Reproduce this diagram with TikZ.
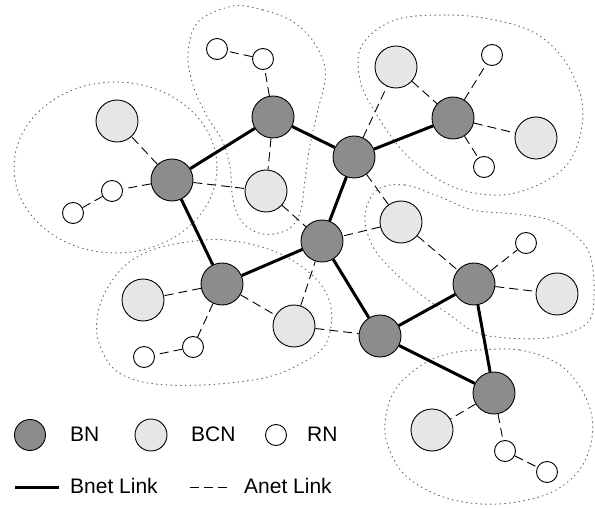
\documentclass[tikz,border=0pt]{standalone}
\usepackage{fontspec}
\setmainfont{Liberation Sans}
\begin{document}
\begin{tikzpicture}[x=1pt,y=-1pt,
  bn/.style={circle,draw=black,line width=0.9pt,fill=bngray,minimum size=42pt,inner sep=0pt},
  bcn/.style={circle,draw=black,line width=0.9pt,fill=bcngray,minimum size=42pt,inner sep=0pt},
  rn/.style={circle,draw=black,line width=0.9pt,fill=white,minimum size=21pt,inner sep=0pt},
  bnet/.style={line width=3pt},
  anet/.style={line width=0.9pt,dash pattern=on 9pt off 5pt},
  cluster/.style={draw=black!60,line width=1pt,dash pattern=on 0.8pt off 4pt,line cap=round},
  lbl/.style={anchor=west,inner sep=0pt,font=\fontsize{21}{25}\selectfont}
]
\definecolor{bngray}{HTML}{8C8C8C}
\definecolor{bcngray}{HTML}{E6E6E6}
\useasboundingbox (0,0) rectangle (595,508);

% cluster outlines
\draw[cluster] (115.5,167.5) ellipse [x radius=101.5pt, y radius=85.5pt];
\draw[cluster] plot[smooth cycle,tension=0.6] coordinates {
  (233,6) (263,10) (290,20) (310,37) (323,60) (325,80) (318,110) (310,145)
  (305,180) (300,213) (287,230) (263,234) (243,223) (233,200) (230,167)
  (222,140) (208,118) (194,88) (188,55) (198,22)};
\draw[cluster] plot[smooth cycle,tension=0.6] coordinates {
  (395,20) (448,15) (495,20) (535,33) (562,57) (578,87) (583,113) (578,143)
  (565,167) (538,185) (502,195) (462,190) (428,173) (400,148) (375,112)
  (360,80) (362,45)};
\draw[cluster] plot[smooth cycle,tension=0.6] coordinates {
  (377,190) (405,185) (440,197) (473,210) (515,214) (550,220) (575,235)
  (590,255) (594,290) (588,322) (553,337) (507,338) (475,332) (450,315)
  (420,294) (392,270) (372,245) (365,215)};
\draw[cluster] plot[smooth cycle,tension=0.6] coordinates {
  (195,241) (225,240) (262,247) (292,260) (318,281) (330,303) (331,327)
  (323,348) (300,364) (268,377) (218,384) (168,385) (135,380) (112,367)
  (98,340) (98,313) (108,287) (128,263) (158,248)};
\draw[cluster] plot[smooth cycle,tension=0.6] coordinates {
  (480,350) (520,350) (557,363) (580,387) (592,417) (590,447) (577,473)
  (550,493) (510,503) (470,503) (433,493) (403,473) (387,443) (386,415)
  (397,387) (425,363) (452,353)};

% nodes of the backbone
\node[bn] (B1) at (172,180) {};
\node[bn] (B2) at (273,117) {};
\node[bn] (B3) at (354,157) {};
\node[bn] (B4) at (453,118) {};
\node[bn] (B5) at (322,241) {};
\node[bn] (B6) at (222,284) {};
\node[bn] (B7) at (474,284) {};
\node[bn] (B8) at (380,336) {};
\node[bn] (B9) at (494,393) {};
% candidate nodes
\node[bcn] (C1) at (117,121) {};
\node[bcn] (C2) at (266,191) {};
\node[bcn] (C3) at (396,67) {};
\node[bcn] (C4) at (536,138) {};
\node[bcn] (C5) at (401,222) {};
\node[bcn] (C6) at (143,300) {};
\node[bcn] (C7) at (294,326) {};
\node[bcn] (C8) at (557,294) {};
\node[bcn] (C9) at (432,430) {};
% regular nodes
\node[rn] (R1) at (217,49) {};
\node[rn] (R2) at (263,59) {};
\node[rn] (R3) at (112,191) {};
\node[rn] (R4) at (73,213) {};
\node[rn] (R5) at (492,55) {};
\node[rn] (R6) at (484,167) {};
\node[rn] (R7) at (526,243) {};
\node[rn] (R8) at (193,347) {};
\node[rn] (R9) at (144,357) {};
\node[rn] (R10) at (505,451) {};
\node[rn] (R11) at (547,472) {};

% Bnet links
\draw[bnet] (B1) -- (B2) (B2) -- (B3) (B3) -- (B4) (B1) -- (B6)
  (B3) -- (B5) (B5) -- (B6) (B5) -- (B8) (B8) -- (B7) (B8) -- (B9) (B7) -- (B9);

% Anet links
\draw[anet] (B1) -- (C1) (B1) -- (R3) (R3) -- (R4) (B1) -- (C2)
  (B2) -- (C2) (B2) -- (R2) (R2) -- (R1) (C2) -- (B5)
  (B3) -- (C3) (C3) -- (B4) (B4) -- (R5) (B4) -- (C4) (B4) -- (R6)
  (B3) -- (C5) (C5) -- (B5) (C5) -- (B7) (B7) -- (R7) (B7) -- (C8)
  (B6) -- (C6) (B6) -- (R8) (R8) -- (R9) (B6) -- (C7) (C7) -- (B5) (C7) -- (B8)
  (B9) -- (C9) (B9) -- (R10) (R10) -- (R11);

% legend
\node[bn,minimum size=31pt] (LB) at (30,435) {};
\node[lbl] (LBt) at (70,434.5) {BN};
\node[bcn,minimum size=32pt] (LC) at (151,435) {};
\node[lbl] (LCt) at (191,434.5) {BCN};
\node[rn] (LR) at (276,435) {};
\node[lbl] (LRt) at (307,434.5) {RN};
\coordinate (L1a) at (15,487);
\coordinate (L1b) at (59,487);
\draw[bnet] (L1a) -- (L1b);
\node[lbl] (L1t) at (70,486) {Bnet Link};
\coordinate (L2a) at (190,487);
\coordinate (L2b) at (228,487);
\draw[anet] (L2a) -- (L2b);
\node[lbl] (L2t) at (244,486) {Anet Link};
\end{tikzpicture}
\end{document}
